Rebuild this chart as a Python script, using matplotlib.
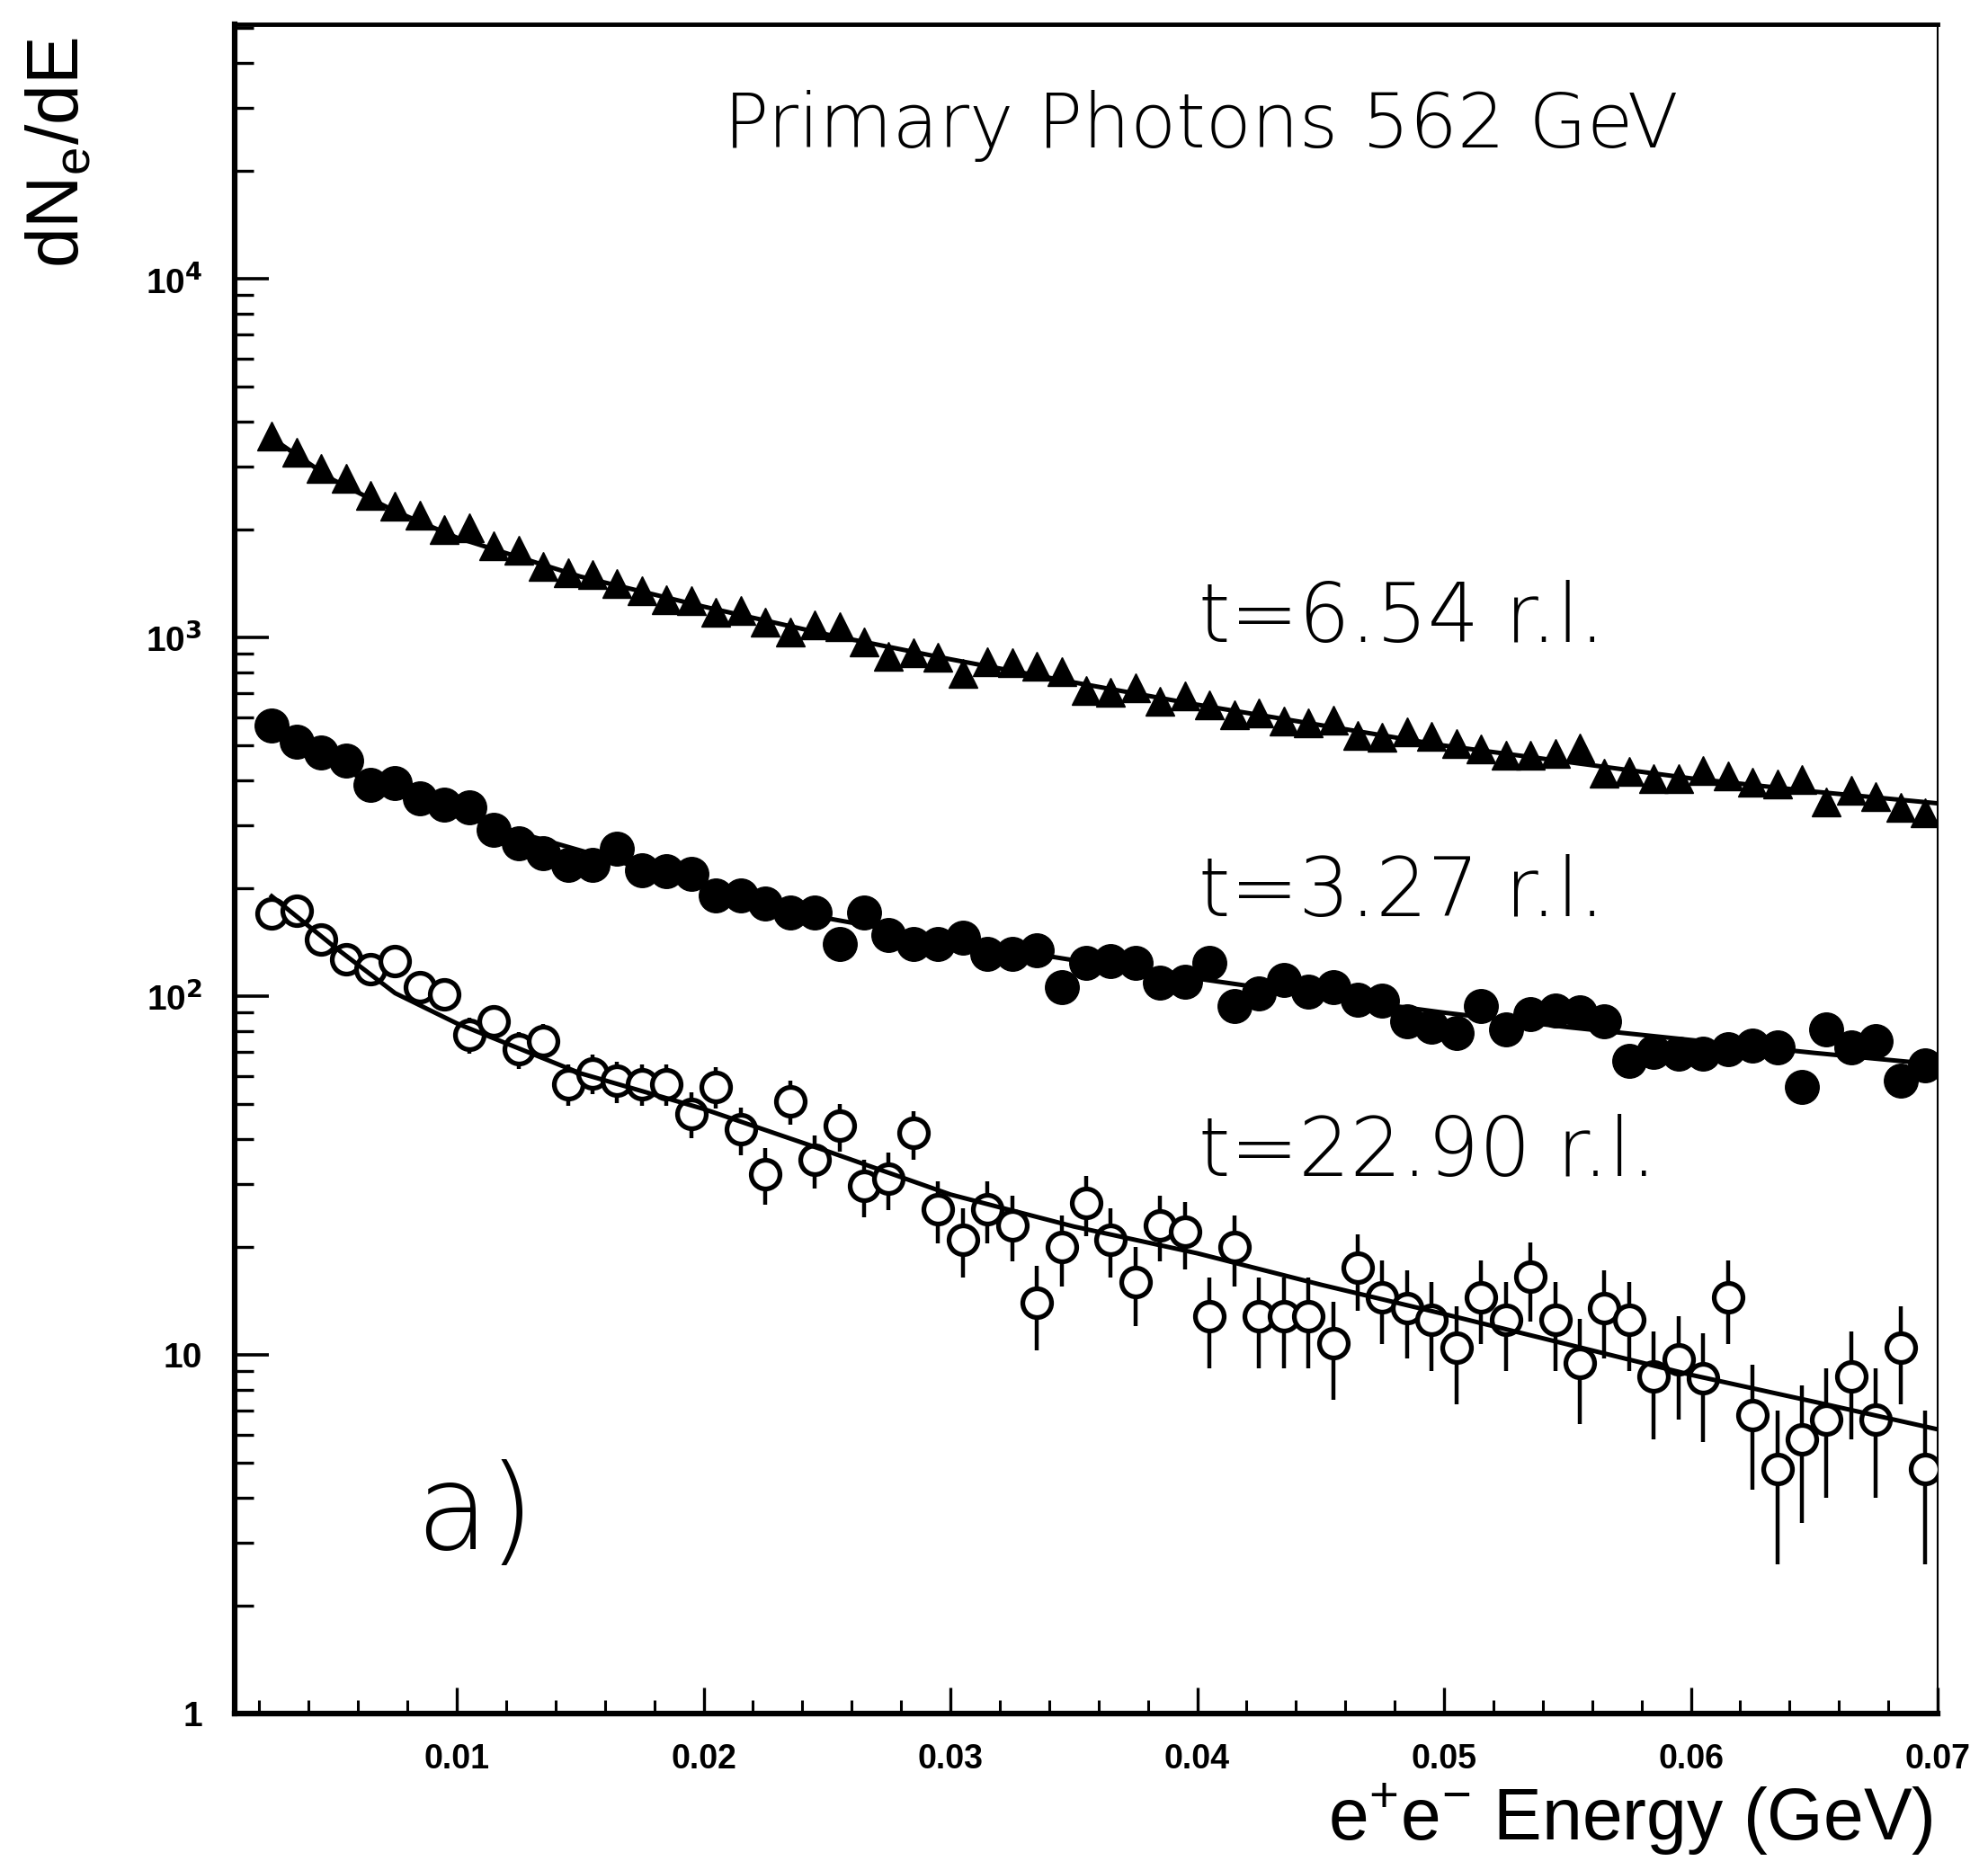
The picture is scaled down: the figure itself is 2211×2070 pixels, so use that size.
import matplotlib
matplotlib.use("Agg")
import matplotlib.pyplot as plt
from matplotlib.ticker import FixedLocator, MultipleLocator, LogLocator, NullFormatter

# bin centres of the e+e- energy histogram (GeV)
energy = [0.0025, 0.0035, 0.0045, 0.0055, 0.0065, 0.0075, 0.0085, 0.0095, 0.0105, 0.0115,
          0.0125, 0.0135, 0.0145, 0.0155, 0.0165, 0.0175, 0.0185, 0.0195, 0.0205, 0.0215,
          0.0225, 0.0235, 0.0245, 0.0255, 0.0265, 0.0275, 0.0285, 0.0295, 0.0305, 0.0315,
          0.0325, 0.0335, 0.0345, 0.0355, 0.0365, 0.0375, 0.0385, 0.0395, 0.0405, 0.0415,
          0.0425, 0.0435, 0.0445, 0.0455, 0.0465, 0.0475, 0.0485, 0.0495, 0.0505, 0.0515,
          0.0525, 0.0535, 0.0545, 0.0555, 0.0565, 0.0575, 0.0585, 0.0595, 0.0605, 0.0615,
          0.0625, 0.0635, 0.0645, 0.0655, 0.0665, 0.0675, 0.0685, 0.0695]

# t = 6.54 r.l. (filled triangles)
dn_654 = [3650, 3290, 2965, 2785, 2496, 2326, 2197, 2002, 2024, 1804,
          1754, 1578, 1520, 1503, 1413, 1352, 1274, 1265, 1180, 1193,
          1104, 1034, 1085, 1070, 972, 886, 906, 882, 794, 857,
          853, 833, 802, 711, 703, 723, 665, 688, 648, 609,
          616, 585, 580, 589, 533, 528, 545, 530, 508, 489,
          470, 470, 476, 491, 419, 424, 405, 405, 426, 411,
          396, 390, 402, 348, 375, 360, 336, 325]

# t = 3.27 r.l. (filled circles)
dn_327 = [570, 513, 477, 455, 388, 392, 357, 342, 336, 291,
          267, 250, 232, 232, 258, 225, 223, 219, 191, 191,
          181, 171, 171, 140, 171, 148, 140, 140, 146, 131,
          131, 134, 106, 124, 125, 124, 109, 110, 124, 94,
          102, 111, 103, 106, 98, 97, 85, 82, 79, 94,
          81, 89, 91, 90, 85, 66, 70, 69, 69, 71,
          73, 72, 56, 81, 72, 75, 58, 64]

# t = 22.90 r.l. (open circles) and their error bars
dn_2290 = [170, 173, 144, 127, 119, 125, 106, 101, 78, 85,
           71, 75, 57, 61, 58, 57, 57, 47, 56, 42.5,
           32, 51, 35, 43.5, 29.6, 31, 41.5, 25.5, 21, 25.5,
           23, 14, 20, 26.5, 21, 16, 23, 22, 12.8, 20,
           12.8, 12.8, 12.8, 10.8, 17.5, 14.5, 13.5, 12.5, 10.5, 14.5,
           12.5, 16.5, 12.5, 9.5, 13.5, 12.5, 8.7, 9.7, 8.6, 14.5,
           6.8, 4.8, 5.8, 6.6, 8.7, 6.6, 10.5, 4.8]
err_2290 = [13, 13, 12, 11, 11, 11, 10, 10, 9, 9,
            8.4, 8.7, 7.5, 7.8, 7.6, 7.5, 7.5, 6.9, 7.5, 6.5,
            5.7, 7.1, 5.9, 6.6, 5.4, 5.6, 6.4, 5.0, 4.6, 5.0,
            4.8, 3.7, 4.5, 5.1, 4.6, 4.0, 4.8, 4.7, 3.6, 4.5,
            3.6, 3.6, 3.6, 3.3, 4.2, 3.8, 3.7, 3.5, 3.2, 3.8,
            3.5, 4.1, 3.5, 3.1, 3.7, 3.5, 2.9, 3.1, 2.9, 3.8,
            2.6, 2.2, 2.4, 2.6, 2.9, 2.6, 3.2, 2.2]

# fitted curves
fit_x = [0.0025, 0.005, 0.0075, 0.01, 0.015, 0.02, 0.025, 0.03,
         0.035, 0.04, 0.045, 0.05, 0.055, 0.06, 0.065, 0.07]
fit_654 = [3600, 2750, 2250, 1900, 1480, 1220, 1020, 870, 750, 650, 570, 500, 450, 405, 372, 345]
fit_327 = [545, 440, 370, 320, 255, 203, 165, 143, 126, 112, 100, 90, 82, 75.5, 69.5, 64.5]
fit_2290 = [190, 138, 102, 84, 61, 48.5, 37, 28, 22.8, 19.2, 15.7, 13, 10.7, 8.8, 7.4, 6.2]

x_ticks = [0.01, 0.02, 0.03, 0.04, 0.05, 0.06, 0.07]
x_ticklabels = ['0.01', '0.02', '0.03', '0.04', '0.05', '0.06', '0.07']
y_ticks = [1, 10, 100, 1000, 10000]
y_ticklabels = ['1', '10', r'10$^{\mathbf{2}}$', r'10$^{\mathbf{3}}$', r'10$^{\mathbf{4}}$']

curve_labels = ['t=6.54 r.l.', 't=3.27 r.l.', 't=22.90 r.l.']

plt.rcParams['font.family'] = ['Liberation Sans', 'DejaVu Sans']
big_font = ['DejaVu Sans']

fig = plt.figure(figsize=(22.11, 20.70), dpi=100)
ax = fig.add_axes([0.11805, 0.07923, 0.85663, 0.90773])

ax.set_yscale('log')
ax.set_xlim(0.001, 0.07)
ax.set_ylim(1, 10 ** 4.71)

# data points
ax.plot(energy, dn_654, linestyle='none', marker='^', ms=23, color='black', zorder=3)
ax.plot(energy, dn_327, linestyle='none', marker='o', ms=27, color='black', zorder=3)
ax.errorbar(energy, dn_2290, yerr=err_2290, fmt='o', ms=23, mfc='white', mec='black',
            mew=3.8, ecolor='black', elinewidth=3.2, capsize=0, zorder=3)

# fits
for fy in (fit_654, fit_327, fit_2290):
    ax.plot(fit_x, fy, color='black', lw=3.6, zorder=5)

# axes styling
ax.spines['left'].set_linewidth(4.5)
ax.spines['bottom'].set_linewidth(4.5)
ax.spines['top'].set_linewidth(3.5)
ax.spines['right'].set_linewidth(1.5)

ax.xaxis.set_major_locator(FixedLocator(x_ticks))
ax.xaxis.set_minor_locator(MultipleLocator(0.002))
ax.set_xticklabels(x_ticklabels)
ax.yaxis.set_major_locator(FixedLocator(y_ticks))
ax.yaxis.set_minor_locator(LogLocator(base=10, subs=[2, 3, 4, 5, 6, 7, 8, 9]))
ax.yaxis.set_minor_formatter(NullFormatter())
ax.set_yticklabels(y_ticklabels)

ax.tick_params(axis='x', which='major', direction='in', length=21, width=2.4,
               pad=24, labelsize=27, top=False)
ax.tick_params(axis='x', which='minor', direction='in', length=11, width=2.2, top=False)
ax.tick_params(axis='y', which='major', direction='in', length=27, width=2.6,
               pad=26, labelsize=28, right=False)
ax.tick_params(axis='y', which='minor', direction='in', length=15, width=2.4, right=False)
for lab in ax.get_xticklabels() + ax.get_yticklabels():
    lab.set_fontweight('bold')

# annotations
ax.text(0.5676, 0.9393, 'Primary Photons 562 GeV', transform=ax.transAxes,
        ha='center', va='center', fontsize=60, family=big_font, fontweight='light')
for lab, yy in zip(curve_labels, [0.648, 0.4854, 0.3316]):
    ax.text(0.566, yy, lab, transform=ax.transAxes, ha='left', va='center',
            fontsize=65, family=big_font, fontweight='light')
ax.text(0.106, 0.1166, 'a)', transform=ax.transAxes, ha='left', va='center',
        fontsize=95, family=big_font, fontweight='light')

fig.text(0.030, 0.918, r'dN$_{\mathregular{e}}$/dE', rotation=90, ha='center', va='center', fontsize=58)
fig.text(0.9725, 0.0111, r'e$^{\mathregular{+}}$e$^{\mathregular{-}}$ Energy (GeV)',
         ha='right', va='baseline', fontsize=58)

fig.savefig('out.png', dpi=100)
plt.close(fig)
